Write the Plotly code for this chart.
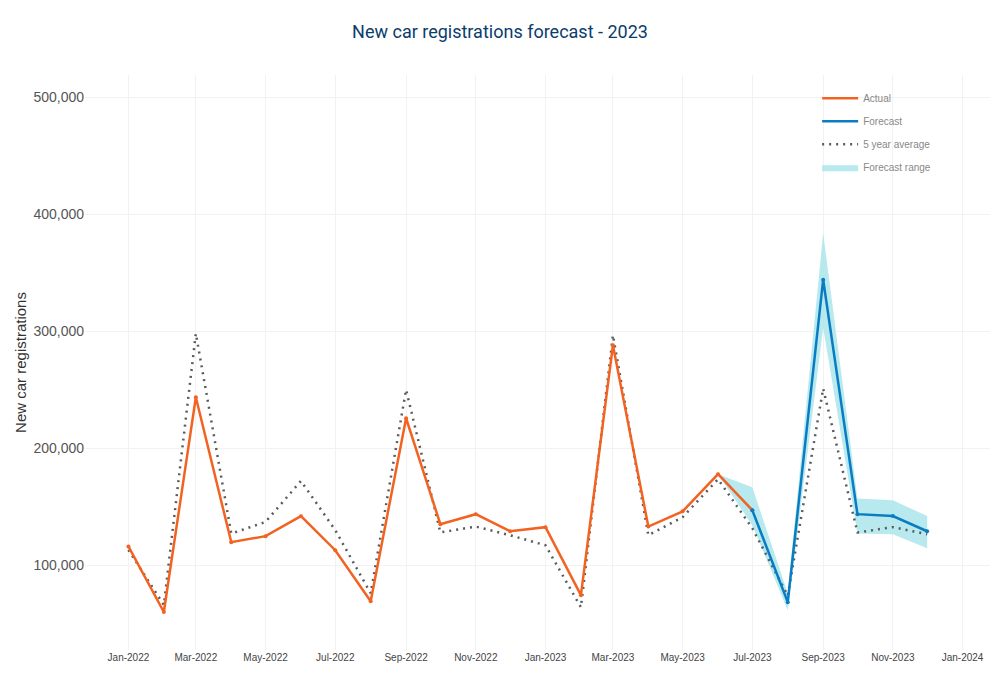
import plotly.graph_objects as go

months_actual = ["2022-01-01", "2022-02-01", "2022-03-01", "2022-04-01", "2022-05-01", "2022-06-01",
                 "2022-07-01", "2022-08-01", "2022-09-01", "2022-10-01", "2022-11-01", "2022-12-01",
                 "2023-01-01", "2023-02-01", "2023-03-01", "2023-04-01", "2023-05-01", "2023-06-01",
                 "2023-07-01"]
actual = [116000, 60000, 243500, 119700, 124800, 141900, 112800, 69200, 225600, 135000, 143600, 129000,
          132500, 74400, 288000, 133000, 146000, 177800, 147000]

months_forecast = ["2023-07-01", "2023-08-01", "2023-09-01", "2023-10-01", "2023-11-01", "2023-12-01"]
forecast = [147000, 68400, 344000, 143600, 142000, 129000]

months_range = ["2023-06-01", "2023-07-01", "2023-08-01", "2023-09-01", "2023-10-01", "2023-11-01", "2023-12-01"]
range_upper = [177800, 166700, 76000, 384000, 157000, 155500, 142000]
range_lower = [177800, 134000, 61500, 303000, 127000, 126500, 114500]

months_avg = months_actual[:-1] + months_forecast
avg5 = [113000, 66000, 298000, 127000, 137000, 172000, 130000, 76000, 250000, 128000, 133000, 125600,
        117000, 64000, 296600, 125600, 141000, 173500, 131600, 74000, 251000, 128000, 132500, 126500]

ORANGE = "#F26322"
BLUE = "#0A7DC2"
BAND = "rgba(165,227,234,0.8)"
DOT = "#5A5A5A"

fig = go.Figure()
fig.add_trace(go.Scatter(x=months_range, y=range_lower, mode="lines", line=dict(width=0, color=BAND),
                         showlegend=False, hoverinfo="skip", legendgroup="r"))
fig.add_trace(go.Scatter(x=months_range, y=range_upper, mode="lines", line=dict(width=0, color=BAND),
                         fill="tonexty", fillcolor=BAND, name="Forecast range", legendgroup="r",
                         legendrank=4))
fig.add_trace(go.Scatter(x=months_avg, y=avg5, mode="lines", line=dict(color=DOT, width=2.5, dash="2px,5px"),
                         name="5 year average", legendgroup="a", legendrank=3))
fig.add_trace(go.Scatter(x=months_actual, y=actual, mode="lines",
                         line=dict(color=ORANGE, width=2.5),
                         name="Actual", legendgroup="o", legendrank=1))
fig.add_trace(go.Scatter(x=months_actual, y=actual, mode="markers", marker=dict(size=4, color=ORANGE),
                         showlegend=False, legendgroup="o"))
fig.add_trace(go.Scatter(x=months_forecast, y=forecast, mode="lines",
                         line=dict(color=BLUE, width=2.5),
                         name="Forecast", legendgroup="f", legendrank=2))
fig.add_trace(go.Scatter(x=months_forecast, y=forecast, mode="markers", marker=dict(size=4, color=BLUE),
                         showlegend=False, legendgroup="f"))

fig.update_layout(
    width=1000, height=685,
    margin=dict(l=85, r=10, t=75, b=35),
    paper_bgcolor="white", plot_bgcolor="white",
    title=dict(text="New car registrations forecast - 2023", x=0.5, xanchor="center",
               y=1 - 32 / 685, yanchor="middle",
               font=dict(family="Roboto", size=18, color="#0B3C6E")),
    font=dict(family="Liberation Sans, Arial", color="#555555"),
    legend=dict(x=0.809, y=0.985, xanchor="left", yanchor="top", bgcolor="rgba(0,0,0,0)",
                font=dict(size=10, color="#888888"), tracegroupgap=4, itemwidth=36),
    showlegend=True,
)
fig.update_xaxes(
    type="date", range=["2021-11-24", "2024-01-25"], tick0="2022-01-01", dtick="M2",
    tickformat="%b-%Y", tickfont=dict(size=10, color="#444444"), showgrid=True,
    gridcolor="#F2F2F2", zeroline=False, showline=False, ticks="",
)
fig.update_yaxes(
    range=[27500, 519000], tickvals=[100000, 200000, 300000, 400000, 500000], tickformat=",",
    tickfont=dict(size=14, color="#555555"), showgrid=True, gridcolor="#F2F2F2", zeroline=False,
    title=dict(text="New car registrations", font=dict(size=15, color="#333333"), standoff=3),
    ticks="",
)

fig.write_html("out.html", post_script="document.body.style.margin='0';",
               config={"displayModeBar": False})
